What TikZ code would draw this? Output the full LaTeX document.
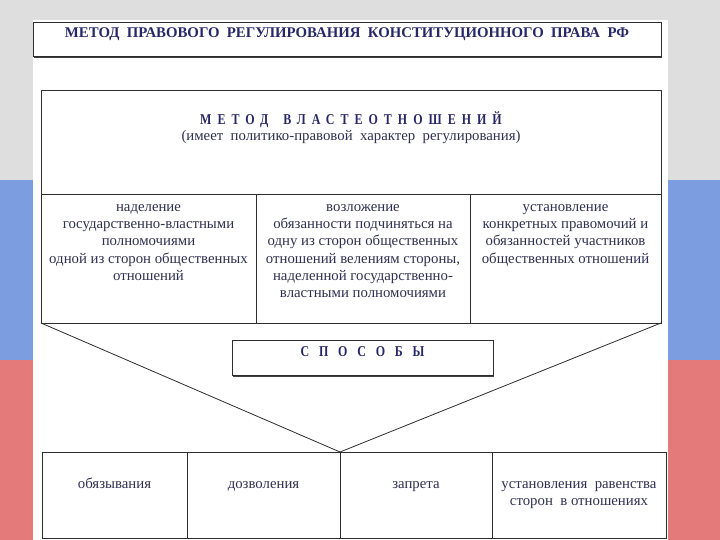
\documentclass[tikz,border=0pt]{standalone}
\usepackage{fontspec}
\setmainfont{Liberation Serif}
\newfontfamily\spacedfont[LetterSpace=40,FakeStretch=0.8]{Liberation Serif}
\newfontfamily\widefont[LetterSpace=65,FakeStretch=0.8]{Liberation Serif}
\definecolor{flaggrey}{RGB}{222,222,222}
\definecolor{flagblue}{RGB}{124,158,225}
\definecolor{flagred}{RGB}{228,122,122}
\definecolor{inknavy}{RGB}{40,40,105}
\definecolor{inkgrey}{RGB}{48,48,82}
\definecolor{framegrey}{RGB}{45,45,45}
\usepackage{tikz}
\usetikzlibrary{positioning,shadows}

\begin{document}
\begin{tikzpicture}[
    x=1pt, y=-1pt,
    node distance=0pt,
    frame/.style={draw=framegrey, line width=0.8pt},
    cell/.style={frame, fill=white, inner sep=0pt, outer sep=0pt, anchor=north west},
    shadowed/.style={drop shadow={shadow xshift=0.8pt, shadow yshift=-1.6pt, fill=black!75, opacity=1}},
    label text/.style={inner sep=0pt, execute at begin node=\strut},
    heading/.style={label text, text=inknavy, font=\bfseries\fontsize{14.8}{18}\selectfont},
    spaced heading/.style={label text, text=inknavy, font=\spacedfont\bfseries\fontsize{15}{18}\selectfont},
    body text/.style={label text, text=inkgrey, align=center, font=\fontsize{14.8}{17.3}\selectfont}
]
    % Background stripes and panel
    \fill[flaggrey] (0,0) rectangle (720,180);
    \fill[flagblue] (0,180) rectangle (720,360);
    \fill[flagred] (0,360) rectangle (720,540);
    \fill[white] (33,20) rectangle (668,540);

    % Title
    \node[cell, shadowed, minimum width=628pt, minimum height=34pt] (title) at (33,22) {};
    \node[heading, below=2.4pt of title.north] (titletext) {МЕТОД~~ПРАВОВОГО~~РЕГУЛИРОВАНИЯ~~КОНСТИТУЦИОННОГО~~ПРАВА~~РФ};

    % Method of power relations
    \node[cell, minimum width=620pt, minimum height=104pt] (hdr) at (41,90) {};
    \node[spaced heading, below=21.4pt of hdr.north] (hdrtitle) {МЕТОД\quad ВЛАСТЕОТНОШЕНИЙ};
    \node[body text, below=38pt of hdr.north] (hdrnote) {(имеет~ политико-правовой~ характер~ регулирования)};

    \node[cell, minimum width=215pt, minimum height=129pt] (c1) at (hdr.south west) {};
    \node[cell, minimum width=214pt, minimum height=129pt, right=of c1.north east, anchor=north west] (c2) {};
    \node[cell, minimum width=191pt, minimum height=129pt, right=of c2.north east, anchor=north west] (c3) {};

    \node[body text, below=5pt of c1.north] (c1text) {\strut наделение\\государственно-властными\\полномочиями\\одной из сторон общественных\\отношений};
    \node[body text, below=5pt of c2.north] (c2text) {\strut возложение\\обязанности подчиняться на\\одну из сторон общественных\\отношений велениям стороны,\\наделенной государственно-\\властными полномочиями};
    \node[body text, below=5pt of c3.north] (c3text) {\strut установление\\конкретных правомочий и\\обязанностей участников\\общественных отношений};

    % Ways
    \node[cell, minimum width=145pt, minimum height=86pt] (w1) at (42,452) {};
    \node[cell, minimum width=153pt, minimum height=86pt, right=of w1.north east, anchor=north west] (w2) {};
    \node[cell, minimum width=152pt, minimum height=86pt, right=of w2.north east, anchor=north west] (w3) {};
    \node[cell, minimum width=174pt, minimum height=86pt, right=of w3.north east, anchor=north west] (w4) {};

    \node[body text, below=24pt of w1.north] (w1text) {обязывания};
    \node[body text, below=24pt of w2.north] (w2text) {дозволения};
    \node[body text, below=24pt of w3.north] (w3text) {запрета};
    \node[body text, below=24pt of w4.north] (w4text) {\strut установления~ равенства\\сторон~ в отношениях};

    % Funnel
    \draw[frame] (c1.south west) -- (w3.north west) -- (c3.south east);

    \node[cell, shadowed, minimum width=261pt, minimum height=35pt] (ways) at (232,340) {};
    \node[spaced heading, font=\widefont\bfseries\fontsize{15}{18}\selectfont, below=3.9pt of ways.north] (waystext) {СПОСОБЫ};
\end{tikzpicture}
\end{document}
